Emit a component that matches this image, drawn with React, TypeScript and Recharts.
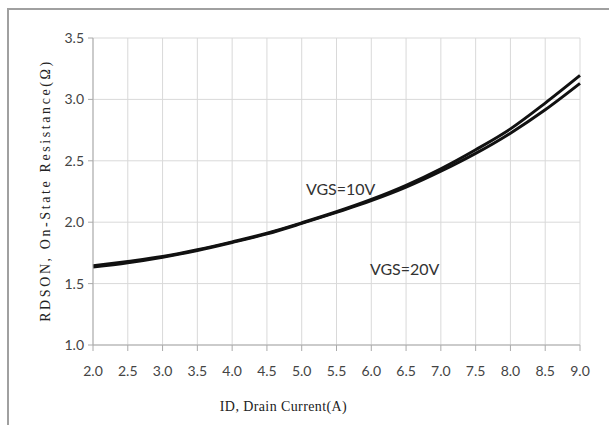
import React from "react";
import {
  LineChart,
  Line,
  XAxis,
  YAxis,
  CartesianGrid,
  ReferenceDot,
  Label,
} from "recharts";

// drain current (A)
const currents = [2.0, 2.5, 3.0, 3.5, 4.0, 4.5, 5.0, 5.5, 6.0, 6.5, 7.0, 7.5, 8.0, 8.5, 9.0];
// RDSON (ohm)
const vgs10 = [1.645, 1.68, 1.72, 1.775, 1.84, 1.91, 1.995, 2.085, 2.185, 2.3, 2.435, 2.59, 2.76, 2.97, 3.195];
const vgs20 = [1.635, 1.67, 1.715, 1.77, 1.835, 1.905, 1.99, 2.08, 2.175, 2.285, 2.415, 2.56, 2.725, 2.915, 3.13];

const xTicks = [2.0, 2.5, 3.0, 3.5, 4.0, 4.5, 5.0, 5.5, 6.0, 6.5, 7.0, 7.5, 8.0, 8.5, 9.0];
const yTicks = [1.0, 1.5, 2.0, 2.5, 3.0, 3.5];

const notes = [
  { x: 5.56, y: 2.265, text: "VGS=10V" },
  { x: 6.48, y: 1.615, text: "VGS=20V" },
];

const data = currents.map((id, i) => ({ id, vgs10: vgs10[i], vgs20: vgs20[i] }));

const tickStyle = { fontFamily: "Lato, 'Open Sans', sans-serif", fontSize: 14, fill: "#444" };

const YTitle = (props: any) => {
  const vb = props.viewBox;
  const cy = vb.y + vb.height / 2 - 1;
  return (
    <text
      x={45}
      y={cy}
      transform={`rotate(-90 45 ${cy})`}
      textAnchor="middle"
      dominantBaseline="central"
      fontFamily="'Liberation Serif', serif"
      fontSize={14}
      letterSpacing={2.6}
      fill="#222"
    >
      RDSON, On-State Resistance(Ω)
    </text>
  );
};

const XTitle = (props: any) => {
  const vb = props.viewBox;
  const cx = vb.x + vb.width / 2 - 53;
  return (
    <text
      x={cx}
      y={406}
      textAnchor="middle"
      dominantBaseline="central"
      fontFamily="'Liberation Serif', serif"
      fontSize={14}
      letterSpacing={0.4}
      fill="#222"
    >
      ID, Drain Current(A)
    </text>
  );
};

export default function App() {
  return (
    <div
      style={{
        position: "absolute",
        left: 0,
        top: 0,
        width: 609,
        height: 425,
        overflow: "hidden",
        background: "#fff",
      }}
    >
      <div
        style={{
          position: "absolute",
          left: 7,
          top: 8,
          width: 700,
          height: 500,
          border: "2px solid #a0a0a0",
        }}
      />
      <div style={{ position: "absolute", left: 0, top: 0 }}>
        <LineChart
          width={609}
          height={425}
          data={data}
          margin={{ top: 38, right: 29, left: 5, bottom: 0 }}
        >
          <CartesianGrid stroke="#d9d9d9" strokeWidth={1} />
          <XAxis
            dataKey="id"
            type="number"
            domain={[2, 9]}
            ticks={xTicks}
            interval={0}
            tickFormatter={(v: number) => v.toFixed(1)}
            stroke="#aaa"
            tickSize={6}
            tickMargin={15}
            tick={tickStyle}
            height={80}
          >
            <Label content={XTitle} />
          </XAxis>
          <YAxis
            type="number"
            domain={[1, 3.5]}
            ticks={yTicks}
            interval={0}
            tickFormatter={(v: number) => v.toFixed(1)}
            stroke="#aaa"
            tickSize={5}
            tickMargin={4}
            tick={tickStyle}
            width={88}
          >
            <Label content={YTitle} />
          </YAxis>
          <Line
            type="monotone"
            dataKey="vgs10"
            stroke="#111"
            strokeWidth={3}
            dot={false}
            isAnimationActive={false}
          />
          <Line
            type="monotone"
            dataKey="vgs20"
            stroke="#111"
            strokeWidth={3}
            dot={false}
            isAnimationActive={false}
          />
          {notes.map((n) => (
            <ReferenceDot
              key={n.text}
              x={n.x}
              y={n.y}
              r={0}
              stroke="none"
              fill="none"
              label={{
                value: n.text,
                position: "center",
                fontFamily: "Lato, 'Open Sans', sans-serif",
                fontSize: 16,
                fill: "#333",
              }}
            />
          ))}
        </LineChart>
      </div>
    </div>
  );
}
